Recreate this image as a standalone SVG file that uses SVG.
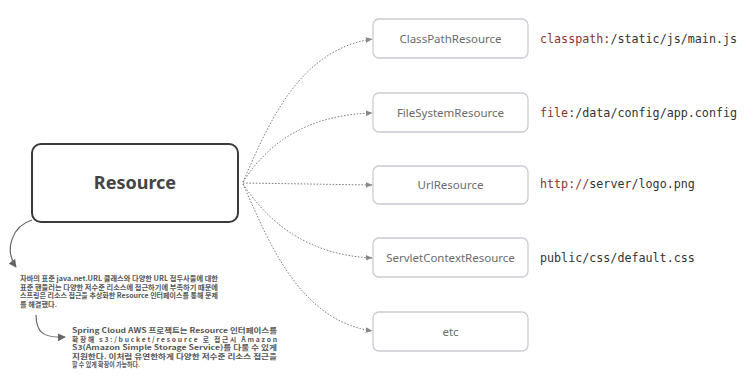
<svg xmlns="http://www.w3.org/2000/svg" width="755" height="379" viewBox="0 0 755 379">
<defs>
<style>
.box{fill:#fff;stroke:#c9ccd3;stroke-width:1.3}
.lbl{font-family:"Noto Sans","Liberation Sans",sans-serif;font-size:11.5px;fill:#6b6b6b;text-anchor:middle}
.code{font-family:"DejaVu Sans Mono","Liberation Mono",monospace;font-size:11.7px;fill:#333}
.kw{fill:#8e3030}
.dot{fill:none;stroke:#808080;stroke-width:1;stroke-dasharray:1.6 1.6}
.note{font-family:"Noto Sans CJK KR","Noto Sans",sans-serif;font-size:6.8px;fill:#555;font-weight:700}
.hand{fill:none;stroke:#666;stroke-width:1.2}
</style>
<marker id="ah" viewBox="0 0 10 10" refX="9" refY="5" markerWidth="7" markerHeight="7" orient="auto" markerUnits="userSpaceOnUse">
<path d="M0,1 L10,5 L0,9 Z" fill="#888"/>
</marker>
<marker id="ah2" viewBox="0 0 10 10" refX="9" refY="5" markerWidth="8" markerHeight="8" orient="auto" markerUnits="userSpaceOnUse">
<path d="M0,0 L10,5 L0,10 Z" fill="#666"/>
</marker>
</defs>
<rect width="755" height="379" fill="#fff"/>
<g id="connectors">
<path class="dot" d="M243,182 C270,120 300,50 372,39" marker-end="url(#ah)"/>
<path class="dot" d="M243,182 C270,140 310,115 372,113" marker-end="url(#ah)"/>
<path class="dot" d="M243,183 L372,185" marker-end="url(#ah)"/>
<path class="dot" d="M243,184 C270,225 310,255 372,258" marker-end="url(#ah)"/>
<path class="dot" d="M243,184 C270,245 300,320 372,331" marker-end="url(#ah)"/>
<path class="hand" d="M32,220 C12,226 4,250 16,267" marker-end="url(#ah2)"/>
<path class="hand" d="M36,315 C36,333 44,338 65,337" marker-end="url(#ah2)"/>
</g>
<g id="resource">
<rect x="32" y="144" width="206" height="78" rx="9" fill="#fff" stroke="#3a3a3a" stroke-width="2"/>
<text x="135" y="189" font-family="Noto Sans,Liberation Sans,sans-serif" font-size="18" font-weight="700" fill="#444" text-anchor="middle">Resource</text>
</g>
<g id="classpath">
<rect class="box" x="373" y="19" width="155" height="39" rx="6"/>
<text class="lbl" x="450.5" y="43">ClassPathResource</text>
<text class="code" x="540" y="43"><tspan class="kw">classpath</tspan>:/static/js/main.js</text>
</g>
<g id="filesystem">
<rect class="box" x="373" y="93" width="155" height="39" rx="6"/>
<text class="lbl" x="450.5" y="117">FileSystemResource</text>
<text class="code" x="540" y="117"><tspan class="kw">file</tspan>:/data/config/app.config</text>
</g>
<g id="url">
<rect class="box" x="373" y="166" width="155" height="38" rx="6"/>
<text class="lbl" x="450.5" y="189">UrlResource</text>
<text class="code" x="540" y="188"><tspan class="kw">http://</tspan>server/logo.png</text>
</g>
<g id="servlet">
<rect class="box" x="373" y="238" width="155" height="39" rx="6"/>
<text class="lbl" x="450.5" y="262">ServletContextResource</text>
<text class="code" x="540" y="262">public/css/default.css</text>
</g>
<g id="etc">
<rect class="box" x="373" y="312" width="155" height="39" rx="6"/>
<text class="lbl" x="450.5" y="336">etc</text>
</g>
<g id="note1">
<text class="note" x="20" y="281" textLength="198" lengthAdjust="spacingAndGlyphs">자바의 표준 java.net.URL 클래스와 다양한 URL 접두사들에 대한</text>
<text class="note" x="20" y="289.5" textLength="198" lengthAdjust="spacingAndGlyphs">표준 핸들러는 다양한 저수준 리소스에 접근하기에 부족하기 때문에</text>
<text class="note" x="20" y="298" textLength="198" lengthAdjust="spacingAndGlyphs">스프링은 리소스 접근을 추상화한 Resource 인터페이스를 통해 문제</text>
<text class="note" x="20" y="306.5" textLength="37" lengthAdjust="spacingAndGlyphs">를 해결했다.</text>
</g>
<g id="note2">
<text class="note" x="72" y="333" textLength="205" lengthAdjust="spacingAndGlyphs">Spring Cloud AWS 프로젝트는 Resource 인터페이스를</text>
<text class="note" x="72" y="341.5" textLength="205" lengthAdjust="spacing">확장해 s3:/bucket/resource 로 접근시 Amazon</text>
<text class="note" x="72" y="350" textLength="205" lengthAdjust="spacingAndGlyphs">S3(Amazon Simple Storage Service)를 다룰 수 있게</text>
<text class="note" x="72" y="358.5" textLength="205" lengthAdjust="spacingAndGlyphs">지원한다. 이처럼 유연한하게 다양한 저수준 리소스 접근을</text>
<text class="note" x="72" y="367" textLength="68" lengthAdjust="spacingAndGlyphs">할 수 있게 확장이 가능하다.</text>
</g>
</svg>
